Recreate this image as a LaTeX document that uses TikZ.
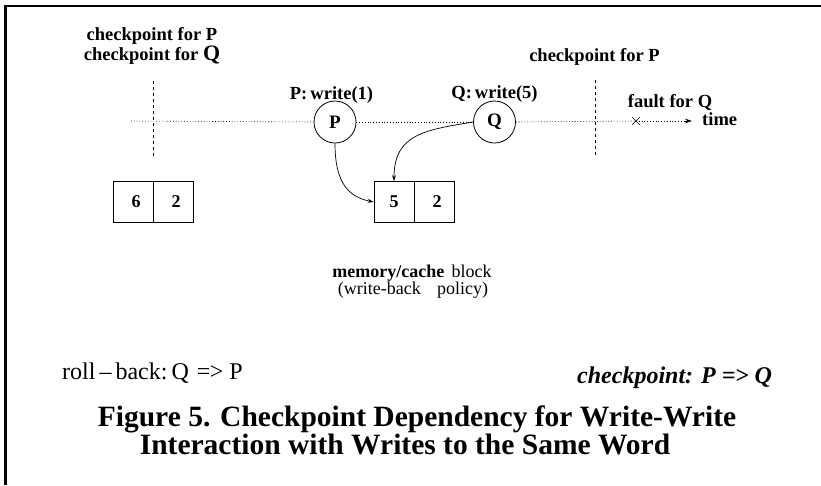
\documentclass[tikz,border=0pt]{standalone}
\usepackage{fontspec}
\setmainfont{Liberation Serif}
\usetikzlibrary{arrows.meta,shapes.misc}
\begin{document}
\begin{tikzpicture}[x=1pt,y=-1pt,
  lbl/.style={font=\fontsize{18.5}{16}\selectfont\bfseries, inner sep=0pt, anchor=base},
  proc/.style={draw, circle, line width=0.8pt, minimum size=42pt, inner sep=0pt,
    font=\fontsize{19}{20}\selectfont\bfseries},
  cell/.style={draw, line width=0.8pt, minimum width=40pt, minimum height=41pt,
    inner sep=0pt, font=\fontsize{18}{20}\selectfont\bfseries},
  timeline/.style={line width=0.6pt, dash pattern=on 0.8pt off 2pt},
  ckline/.style={line width=0.9pt, dash pattern=on 3pt off 3pt},
  wr/.style={line width=0.7pt, -{Stealth[length=6pt,width=4pt]}},
  frame/.style={line width=2.5pt},
  note/.style={inner sep=0pt, anchor=base west},
  capline/.style={inner sep=0pt, anchor=base, font=\fontsize{29.5}{30}\selectfont\bfseries},
]
\useasboundingbox (0,0) rectangle (821,485);

% frame (top and left edges)
\draw[frame] (5.5,485) -- (5.5,6) -- (821,6);

% checkpoint labels (base anchor sits on the last line)
\node[lbl, align=center] (ck1) at (152,60)
  {checkpoint for P\\checkpoint for {\fontsize{22}{16}\selectfont Q}};
\node[lbl] (ck2) at (594.5,61) {checkpoint for P};

% checkpoint cut lines
\coordinate (c1t) at (153,81);
\coordinate (c1b) at (153,157);
\coordinate (c2t) at (595,80);
\coordinate (c2b) at (595,157);
\draw[ckline] (c1t) -- (c1b);
\draw[ckline] (c2t) -- (c2b);

% processes on the time line
\node[proc] (P) at (335,122) {P};
\node[proc] (Q) at (494.5,122) {Q};
\node[lbl] (Pw) at (331.5,99) {P:\,write(1)};
\node[lbl] (Qw) at (494.5,98) {Q:\,write(5)};

% time line
\coordinate (tstart) at (131,121);
\coordinate (tend) at (692,121);
\coordinate (tarr) at (684,121);
\node[draw, cross out, minimum size=7pt, inner sep=0pt, line width=0.6pt] (fault) at (636,121) {};
\node[lbl] (faultlbl) at (670,107) {fault for Q};
\node[lbl, anchor=base west] (time) at (702,125) {time};
\draw[timeline] (tstart) -- (P.west);
\draw[timeline] (P.east) -- (Q.west);
\draw[timeline] (Q.east) -- (fault.center);
\draw[timeline] (fault.center) -- (tarr);
\draw[-{Stealth[length=7pt,width=4.5pt]}, line width=0.6pt] (tarr) -- (tend);

% memory blocks
\node[cell] (a1) at (133,201.5) {\hspace{6pt}6};
\node[cell] (a2) at (173,201.5) {\hspace{6pt}2};
\node[cell] (b1) at (394,202) {5\hspace{6pt}};
\node[cell] (b2) at (434,202) {\hspace{6pt}2};

% writes
\draw[wr] (P.south) .. controls (335,185) and (350,197) .. (b1.west);
\draw[wr] (Q.west) .. controls (425,130) and (394,134) .. (b1.north);

% block description
\node[note, anchor=base, font=\fontsize{18}{18}\selectfont] (mem1) at (412,277)
  {\textbf{memory/cache}\hspace{0.4em}block};
\node[note, anchor=base, font=\fontsize{18}{18}\selectfont] (mem2) at (413,294)
  {(write-back\hspace{0.9em}policy)};

% dependency notes
\node[note, font=\fontsize{24}{24}\selectfont] (rb) at (62,379)
  {roll\,--\,back:\,Q\,\,=\kern-0.5pt> P};
\node[note, font=\fontsize{24}{24}\selectfont\bfseries\itshape] (cp) at (577,383)
  {checkpoint: P =\kern-0.5pt> Q};

% caption
\node[capline] (cap1) at (417,426) {Figure 5. Checkpoint Dependency for Write-Write};
\node[capline] (cap2) at (405,454) {Interaction with Writes to the Same Word};
\end{tikzpicture}
\end{document}
